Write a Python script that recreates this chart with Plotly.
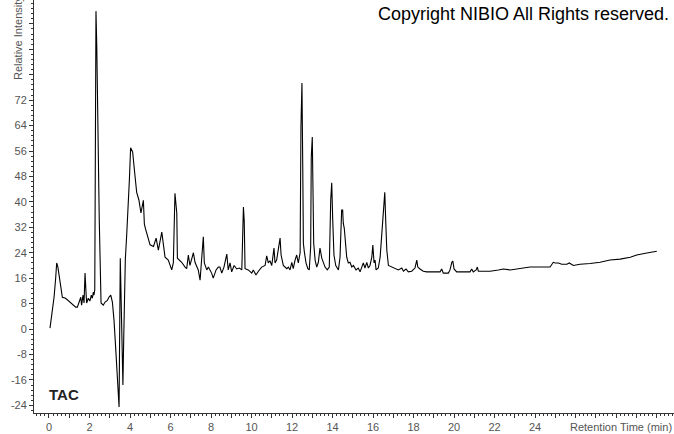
import plotly.graph_objects as go

# retention time (min) and relative intensity
rt_min = [
    0.05, 0.16, 0.25, 0.33, 0.38, 0.44, 0.54, 0.66, 0.82, 0.99, 1.15, 1.32, 1.40, 1.48,
    1.57, 1.61, 1.68, 1.73, 1.78, 1.83, 1.86, 1.94, 2.02, 2.09, 2.14, 2.19, 2.22, 2.26,
    2.29, 2.32, 2.36, 2.40, 2.48, 2.57, 2.68, 2.77, 2.88, 2.96, 3.05, 3.13, 3.21, 3.29,
    3.37, 3.46, 3.52, 3.65, 3.69, 3.72, 3.77, 3.84, 3.90, 3.97, 4.03, 4.08, 4.13, 4.25,
    4.33, 4.44, 4.54, 4.66, 4.71, 4.76, 4.90, 4.99, 5.16, 5.29, 5.40, 5.57, 5.73, 5.89,
    6.06, 6.14, 6.22, 6.31, 6.34, 6.55, 6.72, 6.80, 6.88, 6.96, 7.13, 7.21, 7.37, 7.46,
    7.62, 7.67, 7.79, 7.87, 8.03, 8.11, 8.25, 8.36, 8.44, 8.53, 8.64, 8.78, 8.85, 8.94,
    9.02, 9.14, 9.27, 9.40, 9.52, 9.60, 9.64, 9.68, 9.84, 10.01, 10.09, 10.22, 10.34,
    10.50, 10.67, 10.75, 10.83, 10.91, 11.00, 11.11, 11.16, 11.24, 11.41, 11.46, 11.57,
    11.74, 11.82, 11.90, 11.99, 12.06, 12.15, 12.23, 12.31, 12.40, 12.44, 12.49, 12.53,
    12.56, 12.61, 12.69, 12.78, 12.85, 12.92, 12.95, 13.00, 13.04, 13.07, 13.14, 13.22,
    13.30, 13.38, 13.47, 13.55, 13.63, 13.74, 13.84, 13.91, 13.96, 14.01, 14.07, 14.16,
    14.29, 14.37, 14.45, 14.50, 14.53, 14.58, 14.63, 14.70, 14.78, 14.86, 14.95, 15.03,
    15.16, 15.27, 15.36, 15.44, 15.52, 15.60, 15.69, 15.77, 15.85, 15.94, 15.99, 16.05,
    16.10, 16.15, 16.26, 16.35, 16.43, 16.51, 16.58, 16.63, 16.68, 16.76, 16.92, 17.09,
    17.25, 17.42, 17.50, 17.63, 17.74, 17.91, 18.07, 18.16, 18.21, 18.32, 18.48, 18.65,
    18.98, 19.31, 19.39, 19.47, 19.72, 19.80, 19.89, 19.94, 20.00, 20.13, 20.46, 20.79,
    20.87, 20.95, 21.09, 21.15, 21.20, 21.37, 21.78, 22.19, 22.43, 22.77, 23.10, 23.34,
    23.51, 23.75, 24.25, 24.74, 24.90, 24.99, 25.15, 25.32, 25.57, 25.69, 25.89, 26.22,
    26.72, 27.21, 27.70, 28.20, 28.70, 29.02, 29.52, 30.01,
]
intensity = [
    0.3, 5, 10, 16, 20.8, 19.5, 14.5, 10, 9.7, 8.8, 7.9, 6.9, 6.9, 8.5,
    10, 7.5, 10.7, 8.2, 17.6, 11.3, 8.2, 9.7, 8.8, 10.7, 9.7, 11.6, 10.7, 12.3,
    68, 100, 89, 68, 35, 8.2, 7.5, 8.5, 9, 10, 10.7, 8.5, 2.8, -5.6,
    -16, -24.5, 22.3, -17.6, -3, 14.5, 22, 30, 40.6, 47, 57, 56.5, 55.7, 48,
    43, 40.6, 36.5, 40.5, 33, 31.7, 28.6, 26.5, 26, 28.6, 24.8, 30.5, 22.6, 21.7,
    18.6, 20.8, 42.7, 36.5, 22.3, 21, 19.5, 19, 23.3, 20, 24, 21, 18.6, 15.4,
    29, 20.8, 18.6, 19.5, 17.6, 16, 18.6, 19.5, 19.5, 17.6, 19.5, 23.6, 18.6, 20.8,
    18, 20, 18.9, 19.2, 18.6, 38.4, 34, 19, 18.6, 17.6, 18.6, 17, 18.2,
    19.5, 20, 23, 20.8, 21.5, 20, 25.5, 20.8, 21.7, 28.6, 23.3, 20,
    19, 19.5, 18.6, 21, 19, 21.7, 23.3, 20.8, 24, 63.5, 77.4, 51,
    27, 24.2, 20.8, 19, 18.6, 25.8, 54, 60.4, 47.8, 27, 21.7, 19.5,
    21, 25.5, 22.3, 21, 19.5, 18.6, 19.5, 40.6, 46, 34.3, 23.3, 20,
    18.6, 22.6, 37.4, 37.4, 33.3, 31.7, 28, 22.6, 20.8, 21, 19.5, 20,
    18.6, 19.2, 18, 19.5, 20.8, 19.2, 21, 19.2, 20, 22.6, 26.4, 20.8,
    21.7, 18.6, 19.2, 22.6, 30.2, 35.2, 43, 33.3, 24.8, 20, 19.5, 19.2,
    18.6, 19.2, 18.2, 18.9, 18, 18.2, 19.2, 21.7, 19.5, 18.9, 18.2, 18,
    18, 18, 18.9, 17.6, 17.6, 18.6, 21, 21.4, 18.9, 18, 18, 18,
    18.9, 18, 18.6, 19.5, 18.2, 18.2, 18.2, 18.6, 18.9, 18.6, 18.9, 18.9,
    19.2, 19.5, 19.5, 19.5, 21, 20.8, 20.8, 20.4, 20.4, 20.8, 20, 20.4,
    20.6, 21, 21.7, 22, 22.6, 23.3, 23.9, 24.5,
]

x_ticks = list(range(0, 31))
x_labels = [str(v) if v % 2 == 0 and v <= 24 else '' for v in x_ticks]
y_ticks = list(range(-24, 97, 8))
y_labels = [str(v) if v <= 72 else '' for v in y_ticks]

font_family = 'Arial, Liberation Sans, sans-serif'
tick_color = '#555555'

fig = go.Figure(go.Scatter(x=rt_min, y=intensity, mode='lines',
                           line=dict(color='black', width=1.1), hoverinfo='skip'))

fig.update_layout(
    width=674, height=434,
    margin=dict(l=34, r=0, t=0, b=21),
    paper_bgcolor='white', plot_bgcolor='white',
    showlegend=False,
    font=dict(family=font_family, size=11, color=tick_color),
)
fig.update_xaxes(
    range=[-0.74, 30.86], showgrid=False, zeroline=False,
    showline=True, linecolor='#333333', linewidth=1,
    tickmode='array', tickvals=x_ticks, ticktext=x_labels,
    ticks='outside', ticklen=4, tickcolor='#333333',
    minor=dict(tickmode='linear', tick0=0, dtick=0.2, ticks='outside', ticklen=2, tickcolor='#333333'),
    tickfont=dict(size=11, color=tick_color),
)
fig.update_yaxes(
    range=[-26.4, 103.5], showgrid=False, zeroline=False,
    showline=True, linecolor='#333333', linewidth=1,
    tickmode='array', tickvals=y_ticks, ticktext=y_labels,
    ticks='outside', ticklen=4, tickcolor='#333333',
    minor=dict(tickmode='linear', tick0=0, dtick=1.6, ticks='outside', ticklen=2, tickcolor='#333333'),
    tickfont=dict(size=11, color=tick_color),
)

fig.add_annotation(text='Copyright NIBIO All Rights reserved.', xref='paper', yref='paper',
                   x=0.996, y=1, xanchor='right', yanchor='top', yshift=-2, showarrow=False,
                   font=dict(family=font_family, size=18, color='black'))
fig.add_annotation(text='Relative Intensity', xref='paper', yref='paper', textangle=-90,
                   x=-0.025, y=1, xanchor='center', yanchor='top', yshift=6, showarrow=False,
                   font=dict(family=font_family, size=11, color=tick_color))
fig.add_annotation(text='Retention Time (min)', xref='paper', yref='paper',
                   x=1, y=0, xanchor='right', yanchor='top', yshift=-6, showarrow=False,
                   font=dict(family=font_family, size=11, color=tick_color))
fig.add_annotation(text='<b>TAC</b>', xref='paper', yref='paper',
                   x=0.02, y=0.046, xanchor='left', yanchor='middle', showarrow=False,
                   font=dict(family=font_family, size=15, color='#222222'))

# page body has a default 8px margin; drop it so the figure fills the window
fig.write_html("out.html", config={'displayModeBar': False},
               post_script="document.body.style.margin='0';")
